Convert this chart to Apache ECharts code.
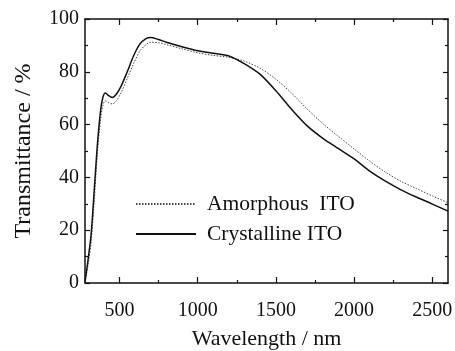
<!DOCTYPE html>
<html>
<head>
<meta charset="utf-8">
<script src="https://cdn.jsdelivr.net/npm/echarts@6/dist/echarts.min.js"></script>
<style>
html,body{margin:0;padding:0;background:#fff;}
#chart{width:455px;height:351px;}
</style>
</head>
<body>
<div id="chart"></div>
<script>
const wavelength = [280, 300, 320, 340, 360, 380, 395, 410, 430, 455, 480, 510, 550, 590, 630, 670, 700, 750, 800, 900, 1000, 1100, 1200, 1300, 1400, 1500, 1600, 1700, 1800, 1900, 2000, 2100, 2200, 2300, 2400, 2500, 2600];
const crystalline = [0.5, 9, 19, 36, 53, 65.5, 70.5, 72, 71, 70.3, 71.5, 74.5, 80, 86, 90.5, 92.6, 93, 92.2, 91.2, 89.5, 88, 87, 86, 83, 79, 72.8, 65.8, 59.5, 54.8, 50.9, 47, 42.4, 38.6, 35.3, 32.5, 29.9, 27.2];
const amorphous = [0.3, 7, 16, 32, 50, 62, 67.5, 69, 68.3, 67.8, 69, 72, 77.5, 83, 87.8, 90.3, 91.2, 91, 90.3, 88.7, 87.2, 86.2, 85.5, 84, 81.3, 77.2, 71.9, 65.9, 60.4, 55.5, 50.8, 46.1, 42, 38.5, 35.7, 33, 30.4];
const xMajorTicks = [500, 1000, 1500, 2000, 2500];
const xMinorTicks = [750, 1250, 1750, 2250];
const seriesNames = ['Amorphous  ITO', 'Crystalline ITO'];
const xTitle = 'Wavelength / nm';
const yTitle = 'Transmittance / %';

const font = 'Liberation Serif';
const ink = '#111';
const chart = echarts.init(document.getElementById('chart'), null, {renderer: 'canvas'});

function xAx(pos, ticks, len, showLabel, showLine, extra) {
  return Object.assign({
    type: 'value', position: pos, min: 280, max: 2600,
    axisLine: {show: showLine, onZero: false, lineStyle: {color: ink, width: 1.5}},
    axisTick: {show: true, inside: true, length: len, customValues: ticks, lineStyle: {color: ink, width: 1.2}},
    axisLabel: {show: showLabel, customValues: ticks, margin: 18, fontFamily: font, fontSize: 20, color: ink,
      formatter: v => String(v)},
    splitLine: {show: false}
  }, extra || {});
}
function yAx(pos, showLabel, extra) {
  return Object.assign({
    type: 'value', position: pos, min: 0, max: 100, interval: 20,
    axisLine: {show: true, onZero: false, lineStyle: {color: ink, width: 1.5}},
    axisTick: {show: true, inside: true, length: 5, lineStyle: {color: ink, width: 1.2}},
    minorTick: {show: true, splitNumber: 2, length: 3, lineStyle: {color: ink, width: 1.2}},
    axisLabel: {show: showLabel, margin: 6, fontFamily: font, fontSize: 20, color: ink},
    splitLine: {show: false}
  }, extra || {});
}

chart.setOption({
  animation: false,
  backgroundColor: '#fff',
  grid: {left: 85, right: 7, top: 19, bottom: 68, containLabel: false, outerBoundsMode: 'none'},
  xAxis: [
    xAx('bottom', xMajorTicks, 6, true, true, {name: xTitle, nameLocation: 'middle', nameGap: 45,
      nameTextStyle: {fontFamily: font, fontSize: 22, color: ink}}),
    xAx('bottom', xMinorTicks, 3, false, false),
    xAx('top', xMajorTicks, 6, false, true),
    xAx('top', xMinorTicks, 3, false, false)
  ],
  yAxis: [
    yAx('left', true, {name: yTitle, nameLocation: 'middle', nameGap: 49, nameRotate: 90,
      nameTextStyle: {fontFamily: font, fontSize: 24, color: ink}}),
    yAx('right', false)
  ],
  legend: {
    left: 135, top: 193, padding: 0, orient: 'vertical', itemWidth: 60, itemHeight: 14, itemGap: 8,
    data: seriesNames,
    itemStyle: {opacity: 0},
    textStyle: {fontFamily: font, fontSize: 21.5, color: ink, lineHeight: 21, padding: [0, 0, 0, 6]}
  },
  series: [
    {name: seriesNames[0], type: 'line', xAxisIndex: 0, yAxisIndex: 0, smooth: 0.3, symbol: 'none',
      data: wavelength.map((w, i) => [w, amorphous[i]]),
      lineStyle: {color: '#444', width: 1, type: [1.5, 1.5]}, itemStyle: {color: '#444'}},
    {name: seriesNames[1], type: 'line', xAxisIndex: 0, yAxisIndex: 0, smooth: 0.3, symbol: 'none',
      data: wavelength.map((w, i) => [w, crystalline[i]]),
      lineStyle: {color: '#111', width: 1.5}, itemStyle: {color: '#111'}}
  ]
});
</script>
</body>
</html>
